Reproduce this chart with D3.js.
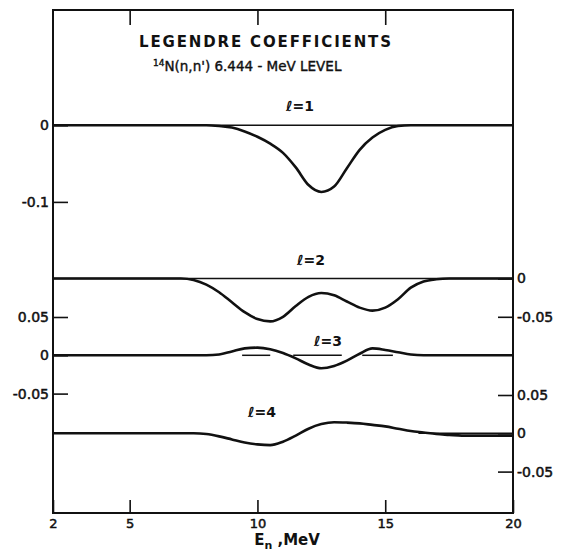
<!DOCTYPE html>
<html>
<head>
<meta charset="utf-8">
<script src="https://cdn.jsdelivr.net/npm/d3@7"></script>
<style>
  body { margin: 0; background: #fff; }
  text { font-family: "DejaVu Sans", sans-serif; fill: #111; }
</style>
</head>
<body>
<div id="chart"></div>
<script>
// neutron energy grid (MeV) shared by all four coefficient curves
const energies = [2, 6, 7, 7.5, 8, 8.5, 9, 9.5, 10, 10.5, 11, 11.5, 12, 12.5, 13, 13.5, 14, 14.5, 15, 15.5, 16, 16.5, 17, 17.5, 18, 20];

const coefL1 = [0, 0, 0, 0, 0, -0.001, -0.003, -0.008, -0.015, -0.024, -0.036, -0.055, -0.078, -0.087, -0.08, -0.056, -0.032, -0.016, -0.006, -0.001, 0, 0, 0, 0, 0, 0];
const coefL2 = [0, 0, 0, -0.002, -0.008, -0.018, -0.031, -0.044, -0.053, -0.056, -0.05, -0.036, -0.024, -0.019, -0.022, -0.03, -0.038, -0.042, -0.038, -0.027, -0.012, -0.004, -0.001, 0, 0, 0];
const coefL3 = [0, 0, 0, 0, 0, 0.001, 0.005, 0.009, 0.010, 0.008, 0.003, -0.004, -0.012, -0.017, -0.014, -0.007, 0.002, 0.009, 0.007, 0.004, 0.001, 0, 0, 0, 0, 0];
const coefL4 = [0, 0, 0, 0, -0.001, -0.004, -0.008, -0.012, -0.0145, -0.0155, -0.011, -0.003, 0.006, 0.012, 0.0145, 0.014, 0.013, 0.011, 0.009, 0.006, 0.003, 0.001, -0.001, -0.002, -0.003, -0.003];

// stretches of the zero reference line that show for each curve (MeV)
const refL1 = [[2, 20]];
const refL2 = [[2, 20]];
const refL3 = [[9.4, 10.5], [11.4, 13.3], [14.1, 15.3]];
const refL4 = [[16.3, 20]];

const panelLabels = ["1", "2", "3", "4"];
const xTicks = [2, 5, 10, 15, 20];
const leftTicksL1 = [0, -0.1];
const leftTicksL3 = [0.05, 0, -0.05];
const rightTicksL2 = [0, -0.05];
const rightTicksL4 = [0.05, 0, -0.05];

const width = 566, height = 554;
const frame = {left: 53, right: 513, top: 10, bottom: 513};
const baselines = [125.3, 278.5, 355.3, 433.3];
const pxPerTenth = 76.6;
const labelPos = [[300, 111], [311, 265], [328, 346], [262, 417]];

const svg = d3.select("#chart").append("svg")
  .attr("width", width)
  .attr("height", height);

const x = d3.scaleLinear().domain([2, 20]).range([frame.left, frame.right]);
const y = baselines.map(b => d3.scaleLinear().domain([-0.1, 0.1]).range([b + pxPerTenth, b - pxPerTenth]));

const fmt = d => d === 0 ? "0" : String(d);

// frame
svg.append("rect")
  .attr("x", frame.left).attr("y", frame.top)
  .attr("width", frame.right - frame.left)
  .attr("height", frame.bottom - frame.top)
  .attr("fill", "none").attr("stroke", "#111").attr("stroke-width", 2);

function styleAxis(g, size) {
  g.select(".domain").remove();
  g.selectAll("line").attr("stroke", "#111").attr("stroke-width", 1.6);
  g.selectAll("text")
    .style("font-family", "DejaVu Sans").style("font-size", size + "px")
    .attr("fill", "#111").attr("stroke", "#111").attr("stroke-width", 0.5);
}

// x axes, ticks pointing inward
svg.append("g")
  .attr("transform", `translate(0,${frame.bottom})`)
  .call(d3.axisBottom(x).tickValues(xTicks).tickSizeInner(-13).tickSizeOuter(0).tickPadding(6).tickFormat(d3.format("d")))
  .call(g => styleAxis(g, 13));

svg.append("g")
  .attr("transform", `translate(0,${frame.top})`)
  .call(d3.axisTop(x).tickValues([5, 10, 15]).tickSizeInner(-15).tickSizeOuter(0).tickFormat(""))
  .call(g => styleAxis(g, 13));

// left y axes (l=1 and l=3)
svg.append("g")
  .attr("transform", `translate(${frame.left},0)`)
  .call(d3.axisLeft(y[0]).tickValues(leftTicksL1).tickSizeInner(-15).tickSizeOuter(0).tickPadding(4).tickFormat(fmt))
  .call(g => styleAxis(g, 14));
svg.append("g")
  .attr("transform", `translate(${frame.left},0)`)
  .call(d3.axisLeft(y[2]).tickValues(leftTicksL3).tickSizeInner(-15).tickSizeOuter(0).tickPadding(4).tickFormat(fmt))
  .call(g => styleAxis(g, 14));

// right y axes (l=2 and l=4)
svg.append("g")
  .attr("transform", `translate(${frame.right},0)`)
  .call(d3.axisRight(y[1]).tickValues(rightTicksL2).tickSizeInner(-15).tickSizeOuter(0).tickPadding(4).tickFormat(fmt))
  .call(g => styleAxis(g, 14));
svg.append("g")
  .attr("transform", `translate(${frame.right},0)`)
  .call(d3.axisRight(y[3]).tickValues(rightTicksL4).tickSizeInner(-15).tickSizeOuter(0).tickPadding(4).tickFormat(fmt))
  .call(g => styleAxis(g, 14));

// reference zero lines
const refs = [refL1, refL2, refL3, refL4];
refs.forEach((spans, i) => {
  svg.append("g").selectAll("line")
    .data(spans)
    .enter().append("line")
      .attr("x1", d => x(d[0])).attr("x2", d => x(d[1]))
      .attr("y1", y[i](0)).attr("y2", y[i](0))
      .attr("stroke", "#111").attr("stroke-width", 1.5);
});

// coefficient curves
const series = [coefL1, coefL2, coefL3, coefL4];
series.forEach((vals, i) => {
  const line = d3.line()
    .x((d, j) => x(energies[j]))
    .y(d => y[i](d))
    .curve(d3.curveMonotoneX);
  svg.append("path")
    .datum(vals)
    .attr("d", line)
    .attr("fill", "none")
    .attr("stroke", "#111")
    .attr("stroke-width", 2.6)
    .attr("stroke-linejoin", "round");
});

// curve labels
panelLabels.forEach((n, i) => {
  svg.append("text")
    .attr("x", labelPos[i][0]).attr("y", labelPos[i][1])
    .attr("text-anchor", "middle")
    .style("font-size", "14px").style("font-weight", "bold")
    .text("\u2113=" + n);
});

// titles
svg.append("text")
  .attr("x", 265).attr("y", 47)
  .attr("text-anchor", "middle")
  .attr("textLength", 252).attr("lengthAdjust", "spacing")
  .style("font-size", "15px").style("font-weight", "bold")
  .text("LEGENDRE COEFFICIENTS");

const sub = svg.append("text")
  .attr("x", 153).attr("y", 71)
  .attr("stroke", "#111").attr("stroke-width", 0.4)
  .style("font-size", "13.5px");
sub.append("tspan").attr("dy", -5).style("font-size", "9px").text("14");
sub.append("tspan").attr("dy", 5).text("N(n,n')  6.444 - MeV LEVEL");

// x axis title
const xt = svg.append("text")
  .attr("x", 287).attr("y", 545)
  .attr("text-anchor", "middle")
  .style("font-size", "15px").style("font-weight", "bold");
xt.append("tspan").text("E");
xt.append("tspan").attr("dy", 4).style("font-size", "11px").text("n");
xt.append("tspan").attr("dy", -4).text(" ,MeV");
</script>
</body>
</html>
